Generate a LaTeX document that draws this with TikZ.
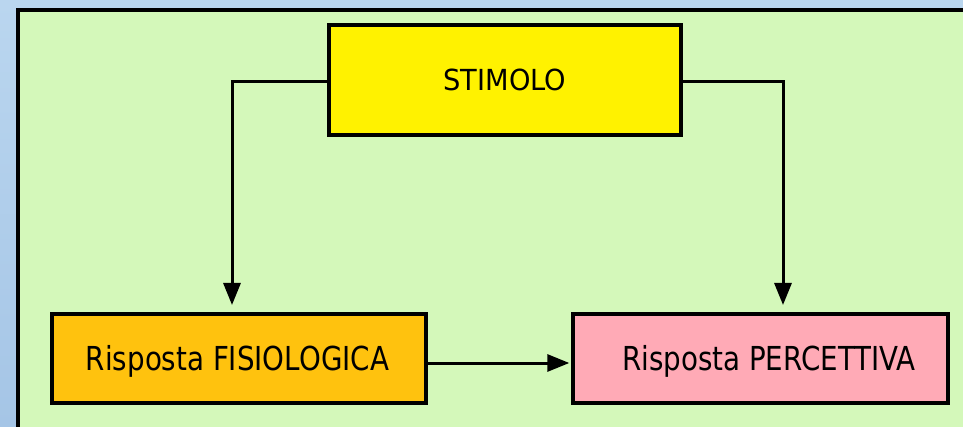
\documentclass[tikz,border=0pt]{standalone}
\usepackage{fontspec}
\setmainfont{DejaVu Sans}[FakeStretch=0.84]
\newfontfamily\titlefont{DejaVu Sans}[FakeStretch=0.94]
\usetikzlibrary{arrows.meta}
\definecolor{skyblue}{HTML}{BAD6EF}
\definecolor{skyblueDark}{HTML}{A5C5E6}
\definecolor{panelgreen}{HTML}{D4F8BA}
\definecolor{boxyellow}{HTML}{FFF200}
\definecolor{boxorange}{HTML}{FFC20E}
\definecolor{boxpink}{HTML}{FFAAB6}
\tikzset{
  box/.style={draw=black, line width=3.4pt, inner sep=0pt},
  lowtext/.style={font=\fontsize{33}{38}\selectfont, text height=24pt, text depth=0pt},
  link/.style={draw=black, line width=3pt, -{Triangle[width=17pt,length=22pt]}},
}
\begin{document}
\begin{tikzpicture}[x=1pt,y=-1pt]
  % backdrop and panel
  \shade[top color=skyblue, bottom color=skyblueDark] (0,0) rectangle (963,427);
  \useasboundingbox (0,0) rectangle (963,427);
  \fill[panelgreen] (18,10) rectangle (963,427);
  \draw[line width=3.5pt] (18,427) -- (18,10) -- (963,10);

  % boxes
  \node[box, fill=boxyellow, minimum width=352pt, minimum height=110pt,
        font=\titlefont\fontsize{29}{34}\selectfont, text height=21pt, text depth=0pt]
        (stim) at (505,80) {STIMOLO};
  \node[box, lowtext, fill=boxorange, minimum width=374pt, minimum height=89pt]
        (fis) at (239,358.5) {\hspace*{-3pt}Risposta FISIOLOGICA};
  \node[box, lowtext, fill=boxpink, minimum width=375pt, minimum height=89pt]
        (perc) at (760.5,358.5) {\hspace*{17pt}Risposta PERCETTIVA};

  % connectors
  \draw[link, shorten >=8pt] (stim.west |- 0,82) -| (232,313);
  \draw[link, shorten >=8pt] (stim.east |- 0,82) -| (783,313);
  \draw[link, shorten >=2pt] (fis.east |- 0,363) -- (perc.west |- 0,363);
\end{tikzpicture}
\end{document}
